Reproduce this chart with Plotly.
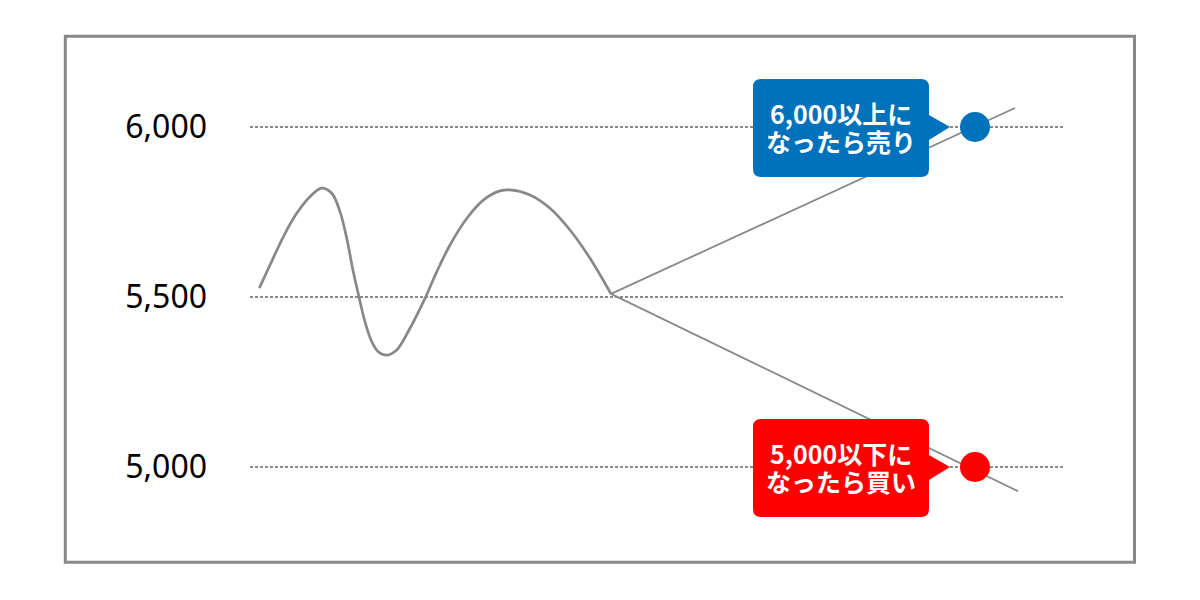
import plotly.graph_objects as go

# ---- data (time index vs price) ----
curve_t = [9.3, 20, 33.3, 46.7, 60, 71.7, 81.7, 90, 96.7, 103.3, 109.3, 115, 121.7, 128.3,
           136.7, 146.7, 160, 175, 186.7, 200, 216.7, 233.3, 250, 260, 280, 300, 320, 340, 361]
curve_v = [5526, 5594, 5677, 5746, 5795, 5820, 5805, 5751, 5673, 5574, 5496, 5427, 5369, 5339,
           5329, 5344, 5408, 5496, 5574, 5653, 5731, 5785, 5812, 5815, 5800, 5761, 5697, 5614, 5509]

up_t = [361, 765]
up_v = [5509, 6056]
down_t = [361, 768]
down_v = [5509, 4929]

levels = [5000, 5500, 6000]
signal_t = 725
sell_level = 6000
buy_level = 5000
sell_label = ["6,000以上に", "なったら売り"]
buy_label = ["5,000以下に", "なったら買い"]

GRAY = "#888888"
BLUE = "#0071BB"
RED = "#FF0000"

fig = go.Figure()
fig.add_trace(go.Scatter(x=curve_t, y=curve_v, mode="lines",
                         line=dict(color=GRAY, width=2.7, shape="spline", smoothing=1.0),
                         hoverinfo="skip"))
fig.add_trace(go.Scatter(x=up_t, y=up_v, mode="lines", line=dict(color=GRAY, width=1.8), hoverinfo="skip"))
fig.add_trace(go.Scatter(x=down_t, y=down_v, mode="lines", line=dict(color=GRAY, width=1.8), hoverinfo="skip"))
fig.add_trace(go.Scatter(x=[signal_t], y=[sell_level], mode="markers",
                         marker=dict(color=BLUE, size=30), hoverinfo="skip"))
fig.add_trace(go.Scatter(x=[signal_t], y=[buy_level], mode="markers",
                         marker=dict(color=RED, size=30), hoverinfo="skip"))

# callout bubble (pixel offsets relative to the dot)
bubble = ("M -214,48 L -54,48 Q -46,48 -46,40 L -46,12 L -25,0 L -46,-13 L -46,-42 "
          "Q -46,-50 -54,-50 L -214,-50 Q -222,-50 -222,-42 L -222,40 Q -222,48 -214,48 Z")
for lvl, col in [(sell_level, BLUE), (buy_level, RED)]:
    fig.add_shape(type="path", path=bubble, xref="x", yref="y",
                  xsizemode="pixel", ysizemode="pixel", xanchor=signal_t, yanchor=lvl,
                  fillcolor=col, line=dict(width=0), layer="above")

for lvl, lines in [(sell_level, sell_label), (buy_level, buy_label)]:
    for txt, ys in zip(lines, [14, -14.5]):
        fig.add_annotation(x=signal_t, y=lvl, text=txt, showarrow=False,
                           xshift=-134, yshift=ys, xanchor="center", yanchor="middle",
                           font=dict(family="Noto Sans CJK JP", size=25, color="white", weight="bold"))

# outer frame
fig.add_shape(type="rect", xref="paper", yref="paper",
              x0=65.3 / 1200, x1=1134.5 / 1200,
              y0=1 - 562.3 / 600, y1=1 - 36.3 / 600,
              line=dict(color=GRAY, width=3), fillcolor="rgba(0,0,0,0)", layer="above")

fig.update_layout(
    width=1200, height=600,
    margin=dict(l=0, r=0, t=0, b=0),
    paper_bgcolor="white", plot_bgcolor="white",
    showlegend=False,
    xaxis=dict(domain=[250 / 1200, 1063 / 1200], range=[0, 813], visible=False, fixedrange=True),
    yaxis=dict(domain=[0, 1], range=[4608.8, 6373.5], tickvals=levels, tickformat=",",
               showgrid=True, gridcolor=GRAY, gridwidth=1.5, griddash="3px,2px",
               zeroline=False, showline=False, ticks="", ticklabelstandoff=42,
               tickfont=dict(family="Noto Sans", size=32, color="black"), fixedrange=True),
)

fig.write_html("out.html", config={"displayModeBar": False},
               post_script="document.body.style.margin='0';")
